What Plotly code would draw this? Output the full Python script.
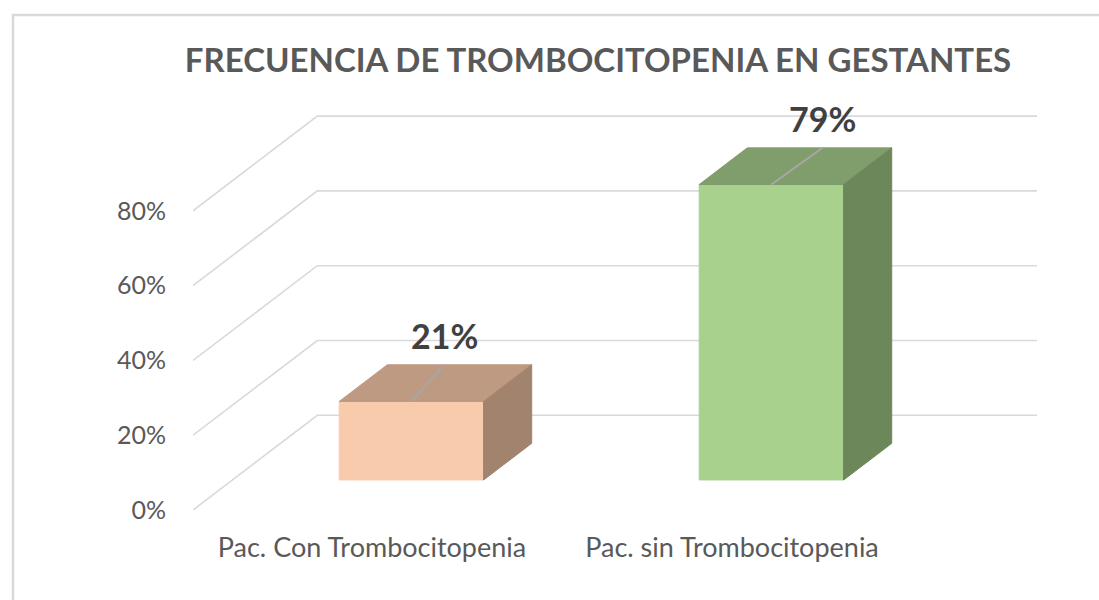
import plotly.graph_objects as go

# ---- data ----
categories = ["Pac. Con Trombocitopenia", "Pac. sin Trombocitopenia"]
values = [21, 79]                      # percent
value_labels = ["21%", "79%"]
ytick_vals = [0, 20, 40, 60, 80]
ytick_text = ["0%", "20%", "40%", "60%", "80%"]
title_text = "FRECUENCIA DE TROMBOCITOPENIA EN GESTANTES"

# ---- styles ----
face_front = ["#F8CBAD", "#A9D18E"]
face_top = ["#BF9A82", "#809E6B"]
face_side = ["#A2836D", "#6C875A"]
grid_color = "#D9D9D9"
text_gray = "#595959"
label_dx_px = [33, 51]   # data label horizontal offset (px) from front-face centre

# ---- geometry (pixel layout) ----
W, H = 1099, 600
L_M, R_M, T_M, B_M = 193, 59, 100, 90
px_per_cat = 360.0
px_per_pct = 3.74
cat0_px = 372.0
x_min = -(cat0_px - L_M) / px_per_cat
x_max = x_min + (W - L_M - R_M) / px_per_cat
y_min = 0.0
y_max = (H - T_M - B_M) / px_per_pct

depth_dx = 124.3 / px_per_cat     # full floor depth, x units
depth_dy = 94.7 / px_per_pct      # full floor depth, y units
d_front, d_back = 0.317, 0.704
half_w = 144.4 / 2 / px_per_cat
back_right_x = (1037 - L_M) / px_per_cat + x_min

fig = go.Figure()

# gridlines (diagonal floor-side + back wall)
for v in ytick_vals:
    fig.add_trace(go.Scatter(
        x=[x_min, x_min + depth_dx, back_right_x],
        y=[v, v + depth_dy, v + depth_dy],
        mode="lines", line=dict(color=grid_color, width=1.6),
        hoverinfo="skip", showlegend=False))

def poly(xs, ys, color):
    fig.add_trace(go.Scatter(
        x=xs + [xs[0]], y=ys + [ys[0]], mode="lines", fill="toself",
        fillcolor=color, line=dict(color=color, width=1),
        hoverinfo="skip", showlegend=False))

t = d_back - d_front
tdx, tdy = t * depth_dx, t * depth_dy
for i, v in enumerate(values):
    c = i + d_front * depth_dx
    base = d_front * depth_dy
    top = base + v
    xl, xr = c - half_w, c + half_w
    # front face
    poly([xl, xr, xr, xl], [base, base, top, top], face_front[i])
    # top face
    poly([xl, xr, xr + tdx, xl + tdx], [top, top, top + tdy, top + tdy], face_top[i])
    # side face
    poly([xr, xr + tdx, xr + tdx, xr], [base, base + tdy, top + tdy, top], face_side[i])
    # leader line + label
    lx = c + label_dx_px[i] / px_per_cat
    fig.add_trace(go.Scatter(
        x=[c, lx], y=[top, top + tdy], mode="lines",
        line=dict(color="#A6A6A6", width=2), hoverinfo="skip", showlegend=False))
    fig.add_annotation(
        x=lx, y=top + 66 / px_per_pct, xref="x", yref="y",
        text="<b>%s</b>" % value_labels[i], showarrow=False,
        font=dict(family="Lato", size=34, color="#404040"),
        xanchor="center", yanchor="middle")

# chart border
PW, PH = W - L_M - R_M, H - T_M - B_M
fig.add_shape(type="rect", xref="paper", yref="paper",
              x0=(13 - L_M) / PW, x1=(W + 60 - L_M) / PW,
              y0=(H - B_M - (H + 60)) / PH, y1=(H - B_M - 15) / PH,
              line=dict(color="#D9D9D9", width=2.5), fillcolor="rgba(0,0,0,0)", layer="below")

fig.update_layout(
    width=W, height=H,
    margin=dict(l=L_M, r=R_M, t=T_M, b=B_M),
    paper_bgcolor="white", plot_bgcolor="white",
    title=dict(text="<b>%s</b>" % title_text, x=598 / W, xanchor="center",
               y=1 - 60 / H, yanchor="middle",
               font=dict(family="Lato", size=33, color=text_gray)),
    xaxis=dict(range=[x_min, x_max], tickvals=[0, 1], ticktext=categories,
               showgrid=False, zeroline=False, showline=False,
               ticks="outside", ticklen=14, tickcolor="rgba(0,0,0,0)",
               tickfont=dict(family="Lato", size=27, color=text_gray), fixedrange=True),
    yaxis=dict(range=[y_min, y_max], tickvals=ytick_vals, ticktext=ytick_text,
               showgrid=False, zeroline=False, showline=False,
               ticks="outside", ticklen=21, tickcolor="rgba(0,0,0,0)",
               tickfont=dict(family="Lato", size=25, color=text_gray), fixedrange=True),
    showlegend=False,
)

fig.write_html("out.html", config={"displayModeBar": False},
               post_script="document.body.style.margin='0';document.body.style.overflow='hidden';")
